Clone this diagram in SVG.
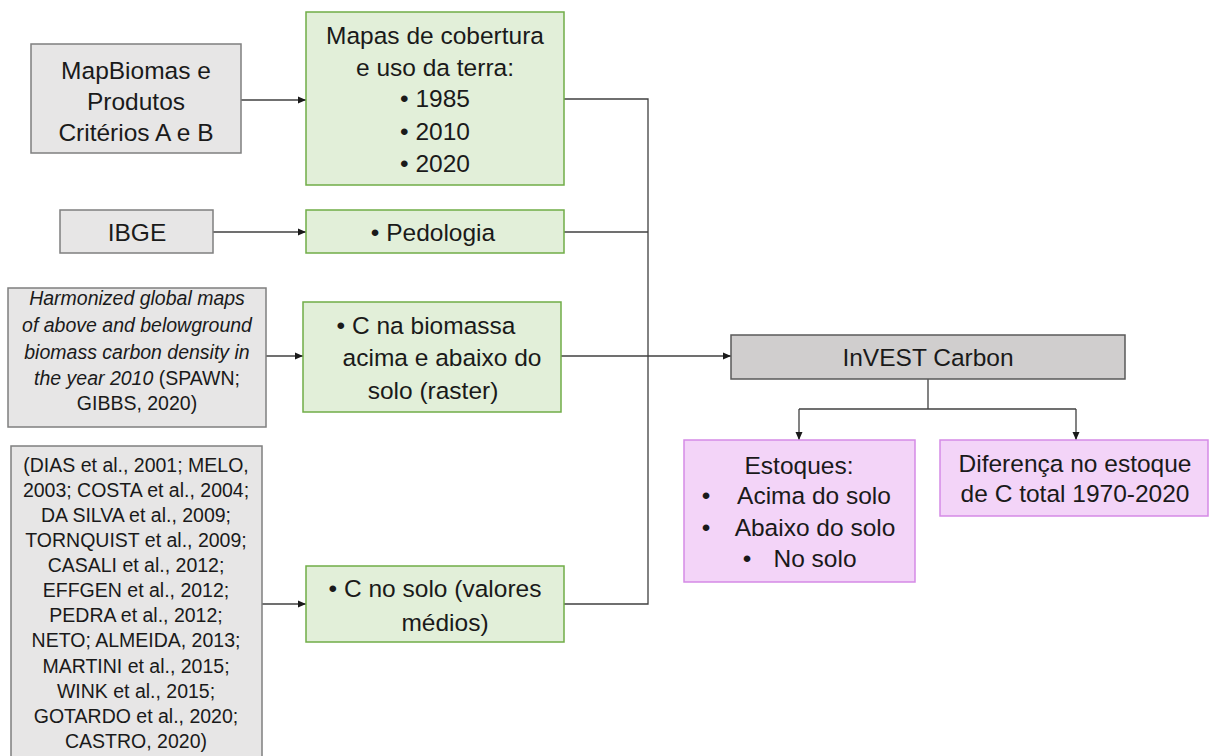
<svg xmlns="http://www.w3.org/2000/svg" width="1209" height="756" viewBox="0 0 1209 756">
<style>
text{font-family:"Liberation Sans",Arial,sans-serif;fill:#1a1a1a}
.t25{font-size:24.5px;text-anchor:middle}
.t19{font-size:19.5px;text-anchor:middle}
.it{font-style:italic}
.gray{fill:#e7e6e6;stroke:#7f7f7f;stroke-width:1.5}
.green{fill:#e2efd9;stroke:#70ad47;stroke-width:1.5}
.pink{fill:#f3d4f8;stroke:#d58ae6;stroke-width:1.5}
.dark{fill:#d0cece;stroke:#595959;stroke-width:1.5}
.c{fill:none;stroke:#404040;stroke-width:1.3}
</style>
<defs>
<marker id="ah" markerUnits="userSpaceOnUse" markerWidth="8" markerHeight="8" refX="8" refY="4" orient="auto">
<path d="M0,0.5 L8,4 L0,7.5 z" fill="#1a1a1a"/>
</marker>
</defs>
<rect width="1209" height="756" fill="#ffffff"/>
<g id="connectors">
<path class="c" d="M241,100 H306" marker-end="url(#ah)"/>
<path class="c" d="M213,232 H306" marker-end="url(#ah)"/>
<path class="c" d="M266,356 H303" marker-end="url(#ah)"/>
<path class="c" d="M262,604 H306" marker-end="url(#ah)"/>
<path class="c" d="M564,99 H648 V604 H564"/>
<path class="c" d="M564,232 H648"/>
<path class="c" d="M561,356 H648"/>
<path class="c" d="M648,356 H731" marker-end="url(#ah)"/>
<path class="c" d="M928,379 V409"/>
<path class="c" d="M799,409 H1076"/>
<path class="c" d="M799,409 V440" marker-end="url(#ah)"/>
<path class="c" d="M1076,409 V440" marker-end="url(#ah)"/>
</g>
<g id="mapbiomas">
<rect class="gray" x="31" y="44" width="210" height="109"/>
<text class="t25" x="136" y="79">MapBiomas e</text>
<text class="t25" x="136" y="110">Produtos</text>
<text class="t25" x="136" y="141">Critérios A e B</text>
</g>
<g id="mapas">
<rect class="green" x="306" y="12" width="258" height="173"/>
<text class="t25" x="435" y="44">Mapas de cobertura</text>
<text class="t25" x="435" y="76">e uso da terra:</text>
<text class="t25" x="435" y="107">• 1985</text>
<text class="t25" x="435" y="140">• 2010</text>
<text class="t25" x="435" y="172">• 2020</text>
</g>
<g id="ibge">
<rect class="gray" x="60" y="210" width="153" height="43"/>
<text class="t25" x="137" y="241">IBGE</text>
</g>
<g id="pedologia">
<rect class="green" x="306" y="210" width="258" height="43"/>
<text class="t25" x="433" y="241">• Pedologia</text>
</g>
<g id="harmonized">
<rect class="gray" x="8" y="288" width="258" height="139"/>
<text class="t19 it" x="137" y="305">Harmonized global maps</text>
<text class="t19 it" x="137" y="332">of above and belowground</text>
<text class="t19 it" x="137" y="359">biomass carbon density in</text>
<text class="t19" x="137" y="385"><tspan font-style="italic">the year 2010</tspan> (SPAWN;</text>
<text class="t19" x="137" y="410">GIBBS, 2020)</text>
</g>
<g id="biomassa">
<rect class="green" x="303" y="302" width="258" height="110"/>
<text class="t25" x="426" y="334">• C na biomassa</text>
<text class="t25" x="442" y="366">acima e abaixo do</text>
<text class="t25" x="433" y="399">solo (raster)</text>
</g>
<g id="referencias">
<rect class="gray" x="11" y="446" width="251" height="320"/>
<text class="t19" x="136" y="472">(DIAS et al., 2001; MELO,</text>
<text class="t19" x="136" y="497">2003; COSTA et al., 2004;</text>
<text class="t19" x="136" y="522">DA SILVA et al., 2009;</text>
<text class="t19" x="136" y="547">TORNQUIST et al., 2009;</text>
<text class="t19" x="136" y="572">CASALI et al., 2012;</text>
<text class="t19" x="136" y="597">EFFGEN et al., 2012;</text>
<text class="t19" x="136" y="622">PEDRA et al., 2012;</text>
<text class="t19" x="136" y="647">NETO; ALMEIDA, 2013;</text>
<text class="t19" x="136" y="673">MARTINI et al., 2015;</text>
<text class="t19" x="136" y="698">WINK et al., 2015;</text>
<text class="t19" x="136" y="723">GOTARDO et al., 2020;</text>
<text class="t19" x="136" y="748">CASTRO, 2020)</text>
</g>
<g id="csolo">
<rect class="green" x="306" y="566" width="258" height="76"/>
<text class="t25" x="435" y="597">• C no solo (valores</text>
<text class="t25" x="445" y="631">médios)</text>
</g>
<g id="invest">
<rect class="dark" x="731" y="335" width="394" height="44"/>
<text class="t25" x="928" y="366">InVEST Carbon</text>
</g>
<g id="estoques">
<rect class="pink" x="684" y="440" width="231" height="142"/>
<text class="t25" x="799" y="474">Estoques:</text>
<text class="t25" x="706" y="504">•</text>
<text class="t25" x="814" y="504">Acima do solo</text>
<text class="t25" x="706" y="536">•</text>
<text class="t25" x="815" y="536">Abaixo do solo</text>
<text class="t25" x="747" y="567">•</text>
<text class="t25" x="815" y="567">No solo</text>
</g>
<g id="diferenca">
<rect class="pink" x="940" y="440" width="268" height="76"/>
<text class="t25" x="1075" y="472">Diferença no estoque</text>
<text class="t25" x="1075" y="502">de C total 1970-2020</text>
</g>
</svg>
